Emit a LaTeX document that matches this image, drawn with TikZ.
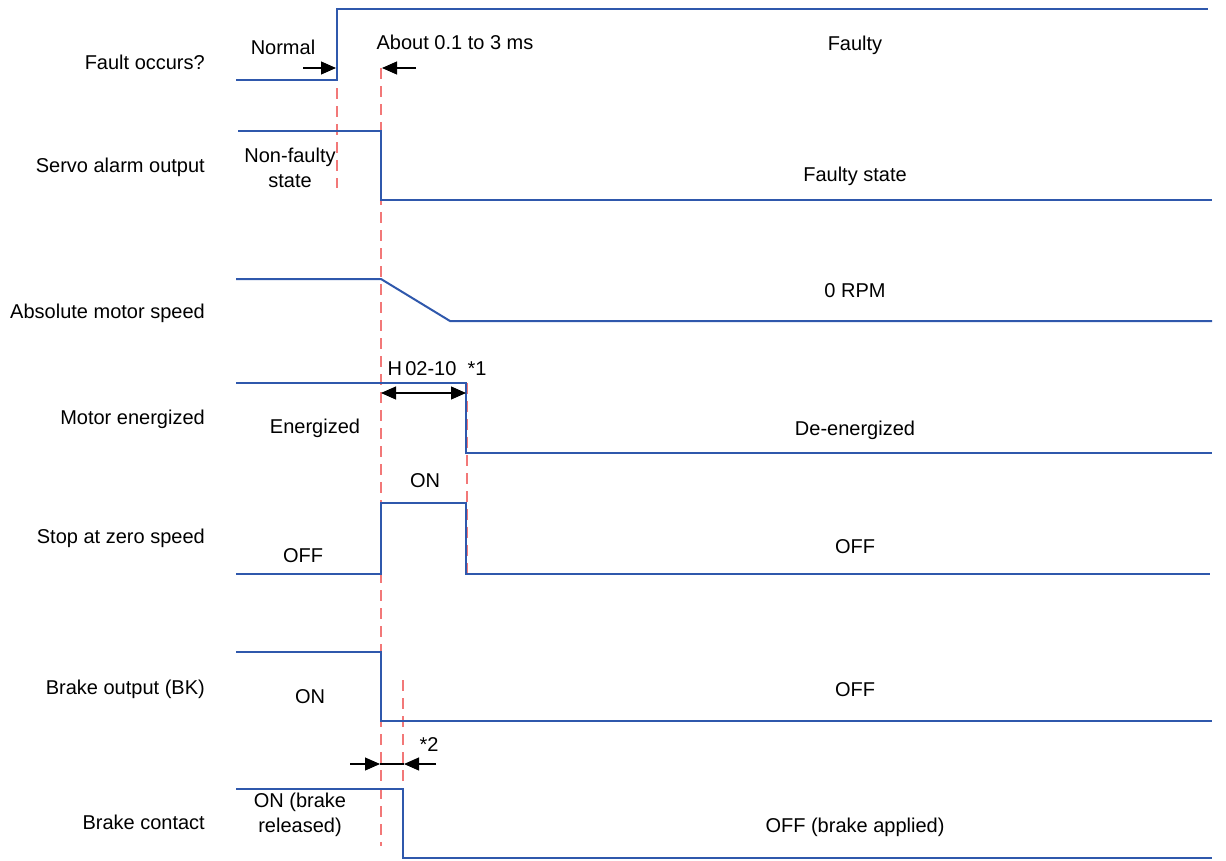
\documentclass[tikz,border=0pt]{standalone}
\usepackage{fontspec}
\setmainfont{Liberation Sans}
\usetikzlibrary{arrows.meta}
\definecolor{wave}{RGB}{47,88,172}
\definecolor{guide}{RGB}{242,120,120}
\begin{document}
\begin{tikzpicture}[x=1pt,y=-1pt,
  sig/.style={draw=wave,line width=2pt},
  guideline/.style={draw=guide,line width=1.6pt,dash pattern=on 11pt off 7pt},
  lbl/.style={font=\fontsize{20}{25}\selectfont,inner sep=0pt,align=center},
  rowlbl/.style={lbl,anchor=east},
  plain/.style={draw=black,line width=1.1pt},
  dim/.style={plain,-{Triangle[length=15pt,width=13pt]}},
  dimboth/.style={plain,{Triangle[length=15pt,width=13pt]}-{Triangle[length=15pt,width=13pt]}}]
\useasboundingbox (0,0) rectangle (1226,860);
% row labels
\node[rowlbl] (r1) at (205,62) {Fault occurs?};
\node[rowlbl] (r2) at (205,167) {Servo alarm output};
\node[rowlbl] (r3) at (205,313) {Absolute motor speed};
\node[rowlbl] (r4) at (205,419) {Motor energized};
\node[rowlbl] (r5) at (205,538) {Stop at zero speed};
\node[rowlbl] (r6) at (205,689) {Brake output (BK)};
\node[rowlbl] (r7) at (205,822) {Brake contact};
% guide lines
\draw[guideline] (337,52) -- (337,188);
\draw[guideline] (381,68) -- (381,846);
\draw[guideline] (467,383) -- (467,578);
\draw[guideline] (403,680) -- (403,818);
% waveforms
\draw[sig] (236,80) -- (337,80) -- (337,9) -- (1208,9);
\draw[sig] (238,131) -- (381,131) -- (381,200) -- (1212,200);
\draw[sig] (236,279) -- (381,279) -- (450,321) -- (1212,321);
\draw[sig] (236,383) -- (466,383) -- (466,453) -- (1212,453);
\draw[sig] (236,574) -- (381,574) -- (381,503) -- (466,503) -- (466,574) -- (1210,574);
\draw[sig] (236,652) -- (381,652) -- (381,721) -- (1212,721);
\draw[sig] (236,789) -- (403,789) -- (403,858) -- (1212,858);
% dimension arrows
\coordinate (n1) at (303,68);
\coordinate (n2) at (336,68);
\coordinate (a1) at (416,68);
\coordinate (a2) at (382,68);
\draw[dim] (n1) -- (n2);
\draw[dim] (a1) -- (a2);
\coordinate (h1) at (381,393);
\coordinate (h2) at (466,393);
\draw[dimboth] (h1) -- (h2);
\coordinate (b1) at (350,764);
\coordinate (b2) at (380,764);
\coordinate (b3) at (436,764);
\coordinate (b4) at (404,764);
\draw[dim] (b1) -- (b2);
\draw[dim] (b3) -- (b4);
\draw[plain] (b2) -- (b4);
% texts
\node[lbl] (tNormal) at (283,47) {Normal};
\node[lbl] (tAbout) at (455,42) {About 0.1 to 3 ms};
\node[lbl] (tFaulty) at (855,45) {Faulty};
\node[lbl] (tNonF) at (290,168) {Non-faulty\\state};
\node[lbl] (tFS) at (855,176) {Faulty state};
\node[lbl] (tRPM) at (855,291) {0 RPM};
\node[lbl] (tH) at (437,369) {H\,02-10\ \ *1};
\node[lbl] (tEn) at (315,428) {Energized};
\node[lbl] (tDe) at (855,430) {De-energized};
\node[lbl] (tON1) at (425,481) {ON};
\node[lbl] (tOFF1) at (303,556) {OFF};
\node[lbl] (tOFF2) at (855,547) {OFF};
\node[lbl] (tON2) at (310,697) {ON};
\node[lbl] (tOFF3) at (855,690) {OFF};
\node[lbl] (t2) at (429,745) {*2};
\node[lbl] (tRel) at (300,815) {ON (brake\\released)};
\node[lbl] (tApp) at (855,827) {OFF (brake applied)};
\end{tikzpicture}
\end{document}
